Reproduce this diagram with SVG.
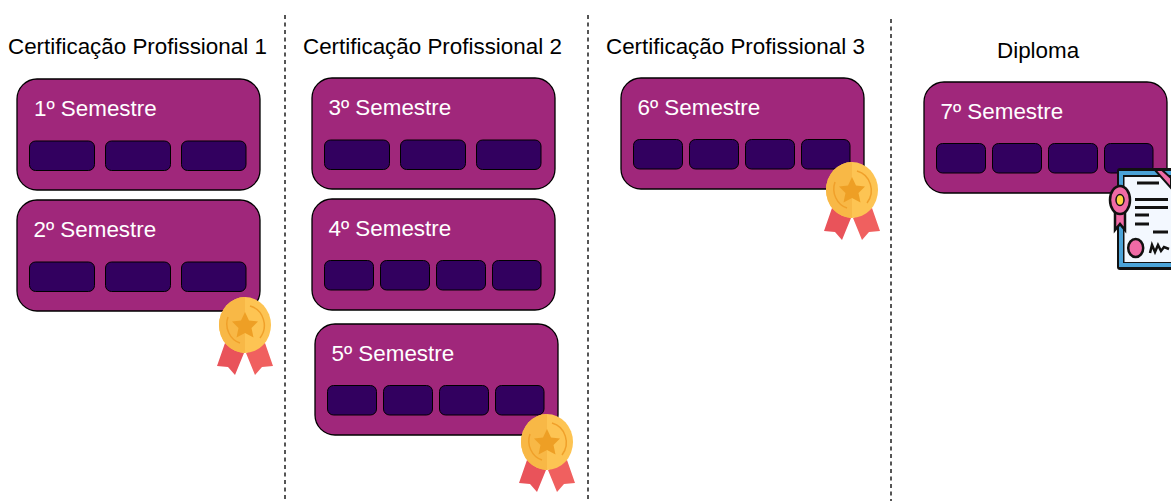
<svg xmlns="http://www.w3.org/2000/svg" xmlns:xlink="http://www.w3.org/1999/xlink" width="1171" height="501" viewBox="0 0 1171 501">
<style>
text{font-family:"Liberation Sans",Arial,sans-serif;font-size:22.4px}
.h{fill:#000}
.s{fill:#fff}
.b{fill:#a0277b;stroke:#000;stroke-width:1.3}
.c{fill:#32005f;stroke:#000;stroke-width:1}
.d{stroke:#555;stroke-width:2;stroke-dasharray:4 3.5;fill:none}
</style>
<defs>
<g id="medal">
<path d="M-20 18L-28 41L-17 42L-10 50L-1 28Z" fill="#e9535a"/>
<path d="M1 28L10 50L17 42L28 41L20 18Z" fill="#f0605f"/>
<ellipse cx="0" cy="0" rx="26" ry="28" fill="#fdc453"/>
<path d="M0 -28A26 28 0 0 0 0 28Z" fill="#f8b846"/>
<path d="M5 -19A19 20 0 0 1 15 13M-5 18A19 20 0 0 1 -17 -8" fill="none" stroke="#f0a02a" stroke-width="1.5"/>
<path d="M0 -13L4 -4.500L13 -3.500L6.500 3L8.500 12.500L0 8L-8.500 12.500L-6.500 3L-13 -3.500L-4 -4.500Z" fill="#ee9f25"/>
</g>
<g id="three">
<rect class="c" x="12.500" y="62" width="65" height="29.500" rx="6"/>
<rect class="c" x="88.500" y="62" width="65" height="29.500" rx="6"/>
<rect class="c" x="164.500" y="62" width="64.500" height="29.500" rx="6"/>
</g>
<g id="four">
<rect class="c" x="12.500" y="61.500" width="49" height="29.500" rx="6"/>
<rect class="c" x="68.500" y="61.500" width="49" height="29.500" rx="6"/>
<rect class="c" x="124.500" y="61.500" width="49" height="29.500" rx="6"/>
<rect class="c" x="180.500" y="61.500" width="48.500" height="29.500" rx="6"/>
</g>
</defs>
<g id="connectors">
<path class="d" d="M285 15V501"/>
<path class="d" d="M588 15V501"/>
<path class="d" d="M891 19V501"/>
</g>
<g id="titles">
<text class="h" x="8" y="54">Certificação Profissional 1</text>
<text class="h" x="303" y="54">Certificação Profissional 2</text>
<text class="h" x="606" y="54">Certificação Profissional 3</text>
<text class="h" x="997" y="58">Diploma</text>
</g>
<g id="sem1" transform="translate(17 79)">
<rect class="b" width="243" height="111" rx="20"/>
<text class="s" x="17" y="37">1º Semestre</text>
<use xlink:href="#three"/>
</g>
<g id="sem2" transform="translate(17 200)">
<rect class="b" width="243" height="111" rx="20"/>
<text class="s" x="16.500" y="37">2º Semestre</text>
<use xlink:href="#three"/>
</g>
<g id="sem3" transform="translate(312 78)">
<rect class="b" width="243" height="111" rx="20"/>
<text class="s" x="16.500" y="37">3º Semestre</text>
<use xlink:href="#three"/>
</g>
<g id="sem4" transform="translate(312 199)">
<rect class="b" width="243" height="111" rx="20"/>
<text class="s" x="16.500" y="37">4º Semestre</text>
<use xlink:href="#four"/>
</g>
<g id="sem5" transform="translate(315 324)">
<rect class="b" width="243" height="111" rx="20"/>
<text class="s" x="16.500" y="37">5º Semestre</text>
<use xlink:href="#four"/>
</g>
<g id="sem6" transform="translate(621 78)">
<rect class="b" width="243" height="111" rx="20"/>
<text class="s" x="16.500" y="37">6º Semestre</text>
<use xlink:href="#four"/>
</g>
<g id="sem7" transform="translate(924 82)">
<rect class="b" width="243" height="111" rx="20"/>
<text class="s" x="16.500" y="37">7º Semestre</text>
<use xlink:href="#four"/>
</g>
<g id="medal1" transform="translate(245 325)"><use xlink:href="#medal"/></g>
<g id="medal2" transform="translate(547 442)"><use xlink:href="#medal"/></g>
<g id="medal3" transform="translate(852 190)"><use xlink:href="#medal"/></g>
<g id="diploma">
<rect x="1117" y="168" width="60" height="102" rx="3" fill="#111"/>
<rect x="1119" y="171" width="60" height="96" fill="#4ba3d8"/>
<rect x="1123" y="175" width="60" height="88" fill="#111"/>
<rect x="1124.500" y="177" width="60" height="85" fill="#f3f8ff"/>
<path d="M1155 170L1171 188V178L1162 170Z" fill="#f06aa5" stroke="#111" stroke-width="2"/>
<path d="M1137 183H1159M1135 199.500H1168M1135 207.500H1168M1135 215H1149M1135 224H1149M1153 232H1168" stroke="#111" stroke-width="3" fill="none"/>
<ellipse cx="1135.700" cy="248" rx="7.500" ry="9" fill="#f06aa5" stroke="#111" stroke-width="2.500"/>
<path d="M1150 253L1152 245L1155 252L1158 245L1161 251L1164 247L1169 249" fill="none" stroke="#111" stroke-width="2.500"/>
<path d="M1115 205V230L1120 224L1125 230V205Z" fill="#f06aa5" stroke="#111" stroke-width="2.500"/>
<ellipse cx="1120" cy="200" rx="10" ry="14" fill="#f06aa5" stroke="#111" stroke-width="2.500"/>
<ellipse cx="1120" cy="200" rx="4" ry="5.500" fill="#ffd23f" stroke="#111" stroke-width="1.500"/>
</g>
</svg>
